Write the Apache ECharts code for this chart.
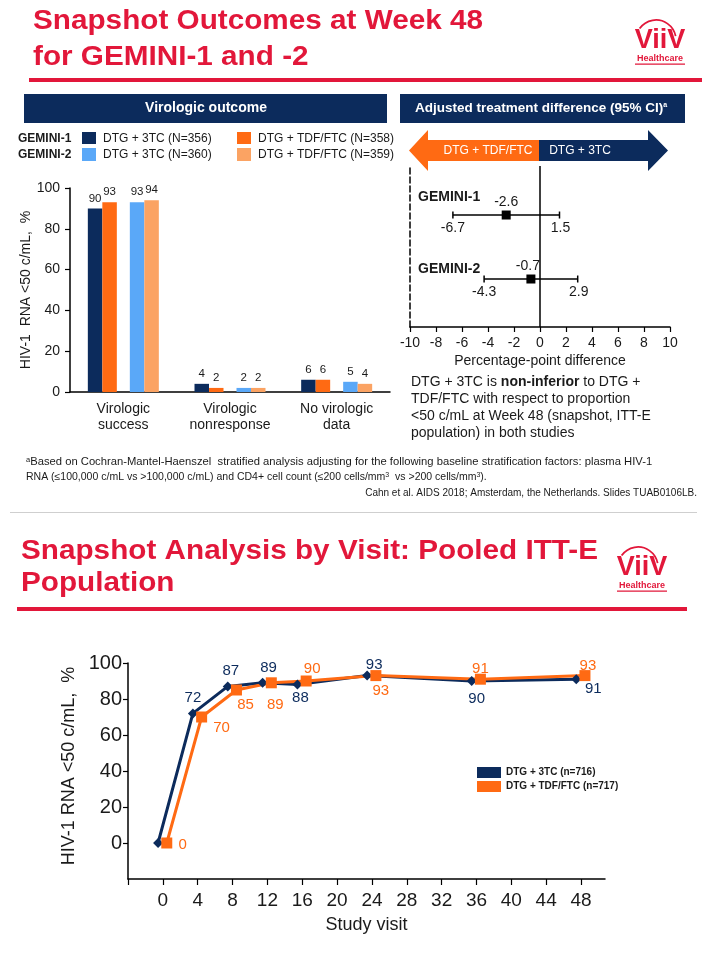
<!DOCTYPE html>
<html><head><meta charset="utf-8">
<script src="https://cdn.jsdelivr.net/npm/echarts@6/dist/echarts.min.js"></script>
<style>html,body{margin:0;padding:0;background:#fff}#c{width:707px;height:959px}</style>
</head><body><div id="c"></div>
<script>
// ---------- data ----------
const outcomeCategories = ['Virologic\nsuccess', 'Virologic\nnonresponse', 'No virologic\ndata'];
const gemini1_3tc = [90, 4, 6];
const gemini1_tdf = [93, 2, 6];
const gemini2_3tc = [93, 2, 5];
const gemini2_tdf = [94, 2, 4];
const barLegendNames = ['DTG + 3TC (N=356)', 'DTG + TDF/FTC (N=358)', 'DTG + 3TC (N=360)', 'DTG + TDF/FTC (N=359)'];
const pctTicks = [0, 20, 40, 60, 80, 100];

const forestStudies = ['GEMINI-1', 'GEMINI-2'];
const forestRow = [2, 1];
const forestEst = [-2.6, -0.7];
const forestLow = [-6.7, -4.3];
const forestHigh = [1.5, 2.9];

const visits = [0, 4, 8, 12, 16, 24, 36, 48];
const pooled3tc = [0, 72, 87, 89, 88, 93, 90, 91];
const pooledTdf = [0, 70, 85, 89, 90, 93, 91, 93];
const visitTicks = [0, 4, 8, 12, 16, 20, 24, 28, 32, 36, 40, 44, 48];
const lineLegend = ['DTG + 3TC (n=716)', 'DTG + TDF/FTC (n=717)'];

// ---------- styles ----------
const FONT = '"Liberation Sans", Arial, Helvetica, sans-serif';
const NAVY = '#0C2B5C', ORANGE = '#FF6A13', LBLUE = '#5AA8F8', LORANGE = '#FBA363', RED = '#E2173A', INK = '#1A1A1A';
const NAVY_SHIFT = -0.55, TDF_SHIFT = 0.45;          // horizontal dodge of markers (weeks)
const lbl3tc = [null, [0,-16], [3,-16], [6,-15], [3,13], [7,-11], [5,18], [17,10]];
const lblTdf = [[16,2], [20,11], [9,15], [4,22], [6,-12], [5,15], [0,-10], [3,-10]];
const studyLabelDy = [-18, -10];

function txt(x, y, text, o) {
  o = o || {};
  return { type: 'text', x: x, y: y, scaleX: o.scaleX || 1,
    style: { text: text, fill: o.fill || INK, fontFamily: FONT, fontSize: o.size || 12,
      fontWeight: o.bold ? 'bold' : 'normal', align: o.align || 'left', verticalAlign: o.va || 'middle',
      rich: o.rich, lineHeight: o.lineHeight } };
}
function logo(cx, cy) {
  return [
    { type: 'arc', shape: { cx: cx - 4, cy: cy - 0.5, r: 20, startAngle: 215 * Math.PI / 180, endAngle: 349 * Math.PI / 180, clockwise: true },
      style: { stroke: RED, lineWidth: 1.8, fill: null } },
    txt(cx, cy, 'ViiV', { size: 27, bold: true, fill: RED, align: 'center' }),
    txt(cx, cy + 18, 'Healthcare', { size: 9, bold: true, fill: RED, align: 'center' }),
    { type: 'rect', shape: { x: cx - 25, y: cy + 23, width: 50, height: 1.2 }, style: { fill: RED } }
  ];
}

const footRich = { n: { fontSize: 10.5, fill: INK, fontFamily: FONT }, s: { fontSize: 7, fill: INK, fontFamily: FONT, verticalAlign: 'top' } };

const graphics = [].concat(
  [
    txt(33, 21.5, 'Snapshot Outcomes at Week 48', { size: 27, bold: true, fill: RED, scaleX: 1.1 }),
    txt(33, 58, 'for GEMINI-1 and -2', { size: 27, bold: true, fill: RED, scaleX: 1.1 }),
    { type: 'rect', shape: { x: 29, y: 78, width: 673, height: 4 }, style: { fill: RED } },
    // banners
    { type: 'rect', shape: { x: 24, y: 94, width: 363, height: 29 }, style: { fill: NAVY } },
    txt(206, 108.5, 'Virologic outcome', { size: 14, bold: true, fill: '#fff', align: 'center' }),
    { type: 'rect', shape: { x: 400, y: 94, width: 285, height: 29 }, style: { fill: NAVY } },
    txt(541, 108.5, '{t|Adjusted treatment difference (95% CI)}{s|a}', { align: 'center',
      rich: { t: { fontSize: 13.5, fontWeight: 'bold', fill: '#fff', fontFamily: FONT },
              s: { fontSize: 7, fontWeight: 'bold', fill: '#fff', fontFamily: FONT, verticalAlign: 'top' } } }),
    // bar legend
    txt(18, 139, 'GEMINI-1', { size: 12, bold: true }),
    txt(18, 155, 'GEMINI-2', { size: 12, bold: true }),
    { type: 'rect', shape: { x: 82, y: 132, width: 14, height: 12 }, style: { fill: NAVY } },
    { type: 'rect', shape: { x: 82, y: 148, width: 14, height: 13 }, style: { fill: LBLUE } },
    { type: 'rect', shape: { x: 237, y: 132, width: 14, height: 12 }, style: { fill: ORANGE } },
    { type: 'rect', shape: { x: 237, y: 148, width: 14, height: 13 }, style: { fill: LORANGE } },
    txt(103, 139, barLegendNames[0], { size: 12 }),
    txt(258, 139, barLegendNames[1], { size: 12 }),
    txt(103, 155, barLegendNames[2], { size: 12 }),
    txt(258, 155, barLegendNames[3], { size: 12 }),
    // direction arrow
    { type: 'polygon', shape: { points: [[409,150.5],[428,130],[428,140],[539,140],[539,161],[428,161],[428,171]] }, style: { fill: ORANGE } },
    { type: 'polygon', shape: { points: [[539,140],[648,140],[648,130],[668,150.5],[648,171],[648,161],[539,161]] }, style: { fill: NAVY } },
    txt(488, 151, 'DTG + TDF/FTC', { size: 12, fill: '#fff', align: 'center' }),
    txt(580, 151, 'DTG + 3TC', { size: 12, fill: '#fff', align: 'center' }),
    // conclusion
    txt(411, 373.5, '{n|DTG + 3TC is }{b|non-inferior}{n| to DTG +}\n{n|TDF/FTC with respect to proportion}\n{n|<50 c/mL at Week 48 (snapshot, ITT-E}\n{n|population) in both studies}',
      { va: 'top', rich: { n: { fontSize: 14, fill: INK, fontFamily: FONT, lineHeight: 17 },
                           b: { fontSize: 14, fill: INK, fontFamily: FONT, fontWeight: 'bold', lineHeight: 17 } } }),
    // footnote
    txt(26, 462, '{s|a}{n|Based on Cochran-Mantel-Haenszel  stratified analysis adjusting for the following baseline stratification factors: plasma HIV-1}',
      { rich: footRich, scaleX: 1.07 }),
    txt(26, 477, '{n|RNA (\u2264100,000 c/mL vs >100,000 c/mL) and CD4+ cell count (\u2264200 cells/mm}{s|3}{n|  vs >200 cells/mm}{s|3}{n|).}',
      { rich: footRich }),
    txt(697, 493, 'Cahn et al. AIDS 2018; Amsterdam, the Netherlands. Slides TUAB0106LB.', { size: 10, align: 'right' }),
    { type: 'rect', shape: { x: 10, y: 512, width: 687, height: 1 }, style: { fill: '#CFCFCF' } },
    // second slide title
    txt(21, 551.7, 'Snapshot Analysis by Visit: Pooled ITT-E', { size: 27, bold: true, fill: RED, scaleX: 1.1 }),
    txt(21, 583.5, 'Population', { size: 27, bold: true, fill: RED, scaleX: 1.1 }),
    { type: 'rect', shape: { x: 17, y: 607, width: 670, height: 4 }, style: { fill: RED } }
  ],
  logo(660, 40.5),
  logo(642, 567.5)
);

function barSeries(name, data, color) {
  return { type: 'bar', name: name, data: data, xAxisIndex: 0, yAxisIndex: 0, barWidth: 14.5, barGap: '0%',
    itemStyle: { color: color },
    label: { show: true, position: 'top', distance: 4, fontSize: 11.5, color: INK, fontFamily: FONT } };
}

function linePoints(vals, shift, offsets) {
  return visits.map(function (v, i) {
    const off = offsets[i];
    return { value: [v + shift, vals[i]], label: off ? { show: true, offset: off } : { show: false } };
  });
}

const option = {
  animation: false,
  backgroundColor: '#fff',
  textStyle: { fontFamily: FONT },
  graphic: { elements: graphics },
  legend: { data: lineLegend, orient: 'vertical', left: 472, top: 762, itemWidth: 24, itemHeight: 11, itemGap: 3,
    icon: 'rect', selectedMode: false, textStyle: { fontSize: 10, fontWeight: 'bold', color: INK, fontFamily: FONT } },
  grid: [
    { left: 70, top: 188, width: 320, height: 204, outerBoundsMode: 'none' },
    { left: 410, top: 166, width: 260, height: 161, outerBoundsMode: 'none' },
    { left: 128, top: 663, width: 477, height: 216, outerBoundsMode: 'none' }
  ],
  xAxis: [
    { gridIndex: 0, type: 'category', data: outcomeCategories,
      axisLine: { lineStyle: { color: '#000', width: 1.5 } }, axisTick: { show: false },
      axisLabel: { fontSize: 14, lineHeight: 16, color: INK, margin: 9, fontFamily: FONT, interval: 0 } },
    { gridIndex: 1, type: 'value', min: -10, max: 10, interval: 2, splitLine: { show: false },
      axisLine: { onZero: false, lineStyle: { color: '#000', width: 1.5 } },
      axisTick: { show: true, length: 5, lineStyle: { color: '#000', width: 1.2 } },
      axisLabel: { fontSize: 14, color: INK, margin: 9, fontFamily: FONT },
      name: 'Percentage-point difference', nameLocation: 'middle', nameGap: 27,
      nameTextStyle: { fontSize: 14, color: INK, fontFamily: FONT } },
    { gridIndex: 2, type: 'value', min: -4, max: 50.75, interval: 4, splitLine: { show: false },
      axisLine: { onZero: false, lineStyle: { color: '#000', width: 1.5 } },
      axisTick: { show: true, length: 6, customValues: [-4].concat(visitTicks), lineStyle: { color: '#000', width: 1.2 } },
      axisLabel: { customValues: visitTicks, fontSize: 19, color: INK, margin: 12, fontFamily: FONT },
      name: 'Study visit', nameLocation: 'middle', nameGap: 37,
      nameTextStyle: { fontSize: 18, color: INK, fontFamily: FONT } }
  ],
  yAxis: [
    { gridIndex: 0, type: 'value', min: 0, max: 100, interval: 20, splitLine: { show: false },
      axisLine: { show: true, lineStyle: { color: '#000', width: 1.5 } },
      axisTick: { show: true, length: 5, lineStyle: { color: '#000', width: 1.2 } },
      axisLabel: { fontSize: 14, color: INK, margin: 10, fontFamily: FONT },
      name: 'HIV-1  RNA <50 c/mL,  %', nameLocation: 'middle', nameGap: 37,
      nameTextStyle: { fontSize: 14, color: INK, fontFamily: FONT } },
    { gridIndex: 1, type: 'value', min: 0.25, max: 2.766, splitLine: { show: false },
      axisLine: { show: true, onZero: false, lineStyle: { color: '#000', width: 1.5, type: 'dashed' } },
      axisTick: { show: false }, axisLabel: { show: false } },
    { gridIndex: 2, type: 'value', min: -20, max: 100, interval: 20, splitLine: { show: false },
      axisLine: { show: true, onZero: false, lineStyle: { color: '#000', width: 1.5 } },
      axisTick: { show: true, length: 5, customValues: pctTicks, lineStyle: { color: '#000', width: 1.2 } },
      axisLabel: { customValues: pctTicks, fontSize: 20, color: INK, margin: 6, fontFamily: FONT },
      name: 'HIV-1 RNA <50 c/mL,  %', nameLocation: 'middle', nameGap: 50,
      nameTextStyle: { fontSize: 18, color: INK, fontFamily: FONT, padding: [0, 0, 0, 10] } }
  ],
  series: [
    barSeries('g1-3tc', gemini1_3tc, NAVY),
    barSeries('g1-tdf', gemini1_tdf, ORANGE),
    { type: 'bar', name: 'gap', data: outcomeCategories.map(function () { return 0; }), xAxisIndex: 0, yAxisIndex: 0,
      barWidth: 13, barGap: '0%', itemStyle: { opacity: 0 }, silent: true },
    barSeries('g2-3tc', gemini2_3tc, LBLUE),
    barSeries('g2-tdf', gemini2_tdf, LORANGE),
    { type: 'custom', name: 'forest', xAxisIndex: 1, yAxisIndex: 1,
      data: forestStudies.map(function (s, i) { return [forestEst[i], forestRow[i], forestLow[i], forestHigh[i]]; }),
      renderItem: function (params, api) {
        const i = params.dataIndex;
        const est = api.value(0), row = api.value(1), lo = api.value(2), hi = api.value(3);
        const pE = api.coord([est, row]), pL = api.coord([lo, row]), pH = api.coord([hi, row]);
        const cs = params.coordSys;
        const ls = { stroke: '#000', lineWidth: 1.5 };
        const ts = function (t, b) { return { text: t, fill: INK, fontSize: 14, fontFamily: FONT, fontWeight: b ? 'bold' : 'normal', align: b ? 'left' : 'center', verticalAlign: 'middle' }; };
        return { type: 'group', children: [
          { type: 'line', shape: { x1: pL[0], y1: pL[1], x2: pH[0], y2: pH[1] }, style: ls },
          { type: 'line', shape: { x1: pL[0], y1: pL[1] - 3.5, x2: pL[0], y2: pL[1] + 3.5 }, style: ls },
          { type: 'line', shape: { x1: pH[0], y1: pH[1] - 3.5, x2: pH[0], y2: pH[1] + 3.5 }, style: ls },
          { type: 'rect', shape: { x: pE[0] - 4.5, y: pE[1] - 4.5, width: 9, height: 9 }, style: { fill: '#000' } },
          { type: 'text', x: pE[0] - (i === 1 ? 3 : 0), y: pE[1] - 13, style: ts(est.toFixed(1)) },
          { type: 'text', x: pL[0], y: pL[1] + 13, style: ts(lo.toFixed(1)) },
          { type: 'text', x: pH[0] + 1, y: pH[1] + 13, style: ts(hi.toFixed(1)) },
          { type: 'text', x: cs.x + 8, y: pE[1] + studyLabelDy[i], style: ts(forestStudies[i], true) }
        ] };
      },
      markLine: { silent: true, symbol: 'none', label: { show: false },
        lineStyle: { color: '#000', width: 1.5, type: 'solid' }, data: [{ xAxis: 0 }] } },
    { type: 'line', name: lineLegend[0], xAxisIndex: 2, yAxisIndex: 2,
      data: linePoints(pooled3tc, NAVY_SHIFT, lbl3tc),
      symbol: 'diamond', symbolSize: 10, lineStyle: { width: 3, color: NAVY }, itemStyle: { color: NAVY },
      label: { position: 'inside', fontSize: 15, color: NAVY, fontFamily: FONT } },
    { type: 'line', name: lineLegend[1], xAxisIndex: 2, yAxisIndex: 2,
      data: linePoints(pooledTdf, TDF_SHIFT, lblTdf),
      symbol: 'rect', symbolSize: 11, lineStyle: { width: 3, color: ORANGE }, itemStyle: { color: ORANGE },
      label: { position: 'inside', fontSize: 15, color: ORANGE, fontFamily: FONT } }
  ]
};

const chart = echarts.init(document.getElementById('c'), null, { renderer: 'canvas' });
chart.setOption(option);
</script>
</body></html>
